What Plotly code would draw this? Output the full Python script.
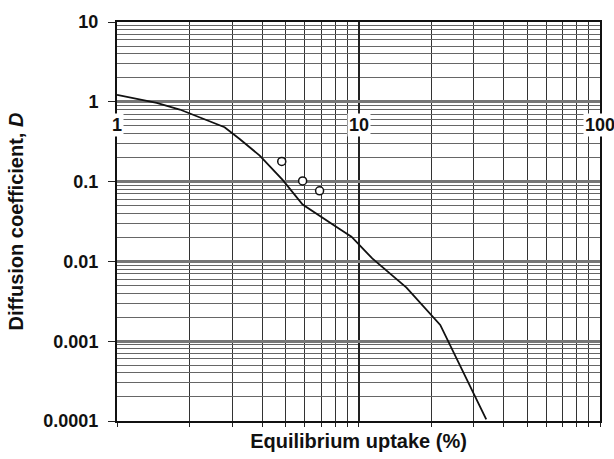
import numpy as np
import plotly.graph_objects as go

# Curve (equilibrium uptake %, diffusion coefficient D)
curve_x = [1.0, 1.46, 1.82, 2.79, 3.22, 3.9, 4.85, 5.87, 8.35, 9.35, 11.4, 15.8, 21.8, 33.8]
curve_y = [1.22, 0.97, 0.80, 0.48, 0.342, 0.212, 0.105, 0.0517, 0.0255, 0.0204, 0.0109, 0.0047, 0.0016, 0.000105]

# Measured points (open circles)
pts_x = [4.81, 5.87, 6.9]
pts_y = [0.179, 0.102, 0.0767]

# Tick labels
x_tickvals = [1, 10, 100]
x_ticktext = ["1", "10", "100"]
y_tickvals = [10, 1, 0.1, 0.01, 0.001, 0.0001]
y_ticktext = ["10", "1", "0.1", "0.01", "0.001", "0.0001"]

FONT = "Liberation Sans"

fig = go.Figure()
fig.add_trace(go.Scatter(x=curve_x, y=curve_y, mode="lines",
                         line=dict(color="#111", width=1.8), showlegend=False))
fig.add_trace(go.Scatter(x=pts_x, y=pts_y, mode="markers",
                         marker=dict(symbol="circle", size=8, color="white",
                                     line=dict(color="#111", width=1.5)),
                         showlegend=False))

# x tick labels sit just below the D = 1 line, with white boxes
for v, t in zip(x_tickvals, x_ticktext):
    fig.add_annotation(x=np.log10(v), y=np.log10(1), xref="x", yref="y",
                       text="<b>%s</b>" % t, showarrow=False, yshift=-23,
                       bgcolor="white", borderpad=1,
                       font=dict(family=FONT, size=18, color="#111"))

fig.update_layout(
    width=614, height=459,
    margin=dict(l=117, r=13, t=15, b=36),
    paper_bgcolor="white", plot_bgcolor="white",
    font=dict(family=FONT, color="#111"),
    xaxis=dict(type="log", range=[0, 2], showticklabels=False,
               tickvals=x_tickvals, ticks="outside", ticklen=4, tickcolor="#222",
               showgrid=True, gridcolor="#222", gridwidth=1.8,
               minor=dict(dtick="D1", showgrid=True, gridcolor="#333", gridwidth=1.4,
                          ticks="outside", ticklen=4, tickcolor="#222"),
               showline=True, linecolor="#111", linewidth=2, mirror=True,
               title=dict(text="<b>Equilibrium uptake (%)</b>", standoff=8,
                          font=dict(family=FONT, size=20, color="#111")),
               zeroline=False),
    yaxis=dict(type="log", range=[-4, 1],
               tickvals=y_tickvals, ticktext=["<b>%s</b>" % t for t in y_ticktext],
               ticks="outside", ticklen=7, tickcolor="#222", ticklabelstandoff=6,
               tickfont=dict(family=FONT, size=18, color="#111"),
               showgrid=True, gridcolor="#777", gridwidth=2.5,
               minor=dict(dtick="D1", showgrid=True, gridcolor="#666", gridwidth=1),
               showline=True, linecolor="#111", linewidth=2, mirror=True,
               title=dict(text="<b>Diffusion coefficient, <i>D</i></b>", standoff=14,
                          font=dict(family=FONT, size=20, color="#111")),
               zeroline=False),
)

fig.write_html("out.html")
